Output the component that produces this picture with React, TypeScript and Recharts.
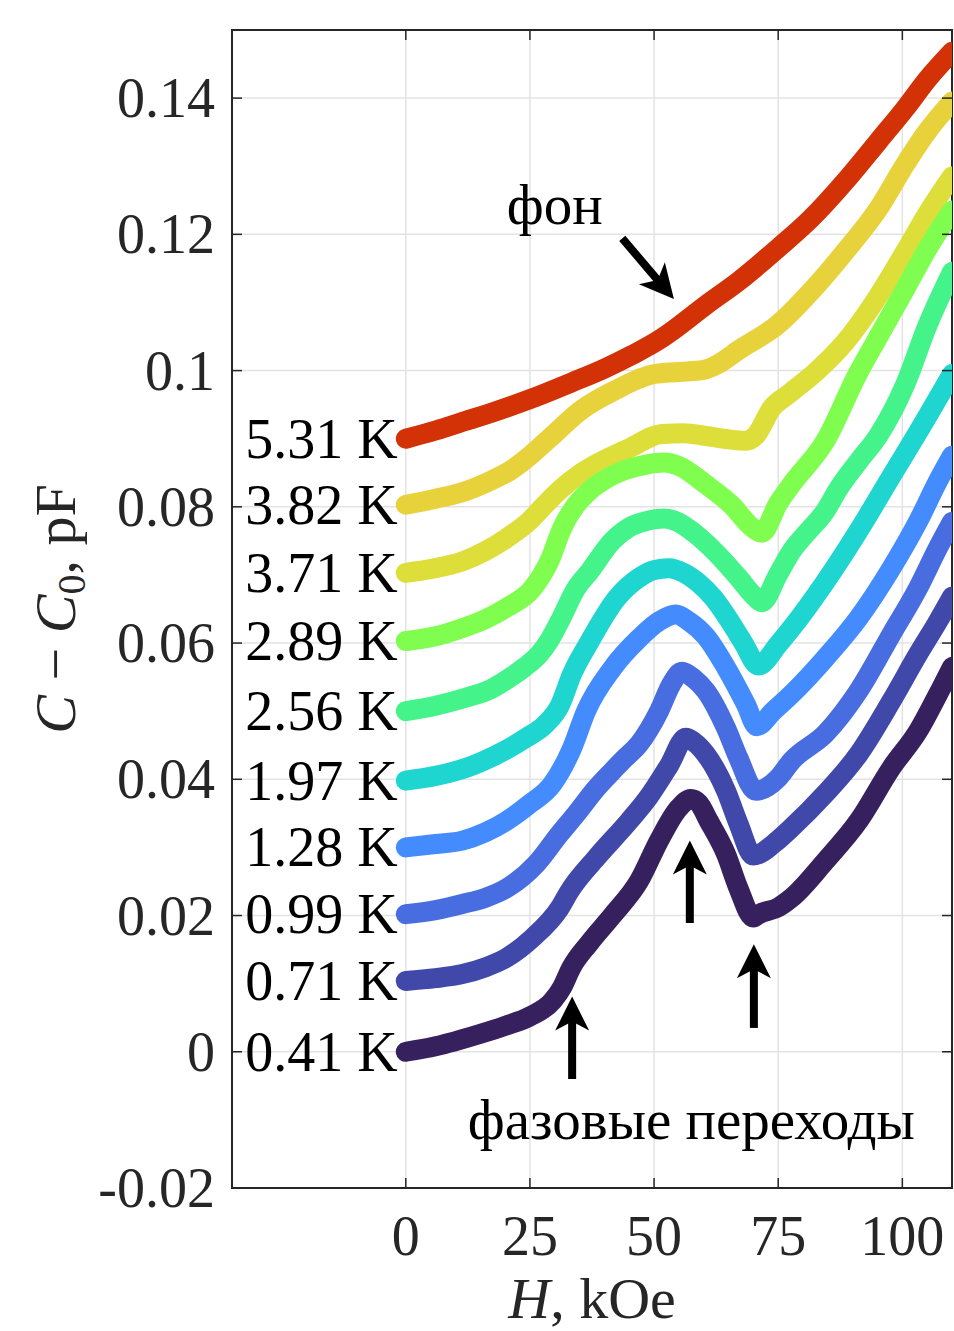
import React from "react";
import {
  LineChart,
  Line,
  XAxis,
  YAxis,
  CartesianGrid,
  ReferenceArea,
  ReferenceLine,
  ReferenceDot,
} from "recharts";

// capacitance C - C0 (pF) vs field H (kOe), curves offset by 0.01 pF
const temperatures = ["5.31 K", "3.82 K", "3.71 K", "2.89 K", "2.56 K", "1.97 K", "1.28 K", "0.99 K", "0.71 K", "0.41 K"];
const palette = ["#d23205", "#e8d23c", "#dede3a", "#80fe50", "#44f48a", "#1ed6cf", "#448cfe", "#486de0", "#4049aa", "#36215e"];

const curve531 = [[0, 0.09], [6, 0.0912], [12, 0.0926], [18, 0.094], [25, 0.0958], [33.5, 0.0983], [40, 0.1003], [45.6, 0.1023], [51, 0.1045], [53.6, 0.1058], [60.4, 0.1096], [67, 0.1131], [75, 0.118], [81.7, 0.1224], [88.5, 0.1278], [95.2, 0.1337], [100.6, 0.1385], [105.2, 0.1429], [110, 0.1468]];
const curve382 = [[0, 0.0803], [6, 0.0812], [12, 0.0823], [17, 0.0838], [21, 0.0853], [25, 0.0875], [29, 0.0901], [35.5, 0.0943], [42.4, 0.0972], [47, 0.0988], [50, 0.0995], [55, 0.0998], [60, 0.1001], [63, 0.1010], [67, 0.1030], [75, 0.1068], [81.7, 0.1117], [88.5, 0.1175], [95.2, 0.1238], [100.6, 0.1303], [105, 0.1351], [110, 0.1395]];
const curve371 = [[0, 0.0703], [6, 0.071], [11.4, 0.072], [16, 0.0735], [20.3, 0.0754], [25, 0.078], [28, 0.0803], [31.5, 0.0828], [35, 0.0848], [38.4, 0.0863], [45, 0.0886], [51.6, 0.0907], [56, 0.0908], [60.4, 0.0904], [65, 0.0899], [68.5, 0.0897], [70.5, 0.0905], [73.7, 0.0945], [77, 0.0965], [82.7, 0.0999], [88.5, 0.1042], [95.2, 0.111], [100.6, 0.1175], [105, 0.123], [110, 0.1285]];
const curve289 = [[0, 0.0603], [6, 0.061], [11.4, 0.0622], [16, 0.0635], [20.3, 0.0652], [25.5, 0.068], [28.9, 0.072], [31.5, 0.0769], [34, 0.08], [36.3, 0.0819], [41.6, 0.0846], [48.4, 0.0862], [52, 0.0865], [55, 0.0860], [60.4, 0.0833], [65.7, 0.0802], [69.7, 0.0770], [71.7, 0.0762], [75, 0.0805], [77.7, 0.0833], [84.5, 0.0897], [91, 0.0995], [95.2, 0.105], [100.6, 0.112], [105, 0.1178], [110, 0.1235]];
const curve256 = [[0, 0.05], [6, 0.0508], [12.2, 0.052], [17, 0.0532], [20.9, 0.0549], [24, 0.0565], [26.9, 0.0584], [29, 0.0605], [31, 0.0632], [34.3, 0.068], [37, 0.0705], [41.6, 0.075], [45, 0.077], [48.4, 0.0779], [52, 0.0783], [55, 0.0777], [58, 0.0762], [62.4, 0.0733], [67, 0.0696], [70, 0.067], [71.7, 0.066], [75, 0.0701], [77.7, 0.0735], [80.5, 0.076], [84.5, 0.0794], [87, 0.0825], [91.2, 0.0867], [95.2, 0.0905], [100.6, 0.098], [105, 0.1065], [110, 0.1145]];
const curve197 = [[0, 0.0398], [6, 0.0405], [12.2, 0.0417], [18, 0.0435], [24.3, 0.0461], [28, 0.048], [31, 0.0508], [33.5, 0.0555], [37, 0.0602], [42.4, 0.0665], [47, 0.0696], [50, 0.0707], [53, 0.0710], [56, 0.0703], [59, 0.0688], [62, 0.0666], [65, 0.0635], [68, 0.0600], [71, 0.0567], [75, 0.0598], [77.7, 0.0622], [84.5, 0.069], [91.2, 0.0765], [97.8, 0.0845], [103.2, 0.091], [110, 0.0995]];
const curve128 = [[0, 0.03], [6, 0.0305], [11.4, 0.031], [16, 0.0322], [20.3, 0.0339], [25, 0.0364], [29.5, 0.0393], [33.5, 0.0446], [36.3, 0.05], [41.6, 0.0563], [47, 0.0607], [51, 0.0632], [54.4, 0.0642], [57, 0.0632], [60.4, 0.0610], [64.5, 0.0564], [68.5, 0.051], [70.7, 0.0478], [74, 0.05], [77.7, 0.0525], [84.5, 0.0578], [91.2, 0.0637], [97.8, 0.071], [103.2, 0.0779], [107.2, 0.0838], [110, 0.0875]];
const curve099 = [[0, 0.0202], [6, 0.0208], [11.4, 0.0217], [16, 0.0226], [20.3, 0.024], [26.3, 0.0276], [31, 0.032], [34.3, 0.0349], [38.4, 0.0387], [41.6, 0.0412], [44, 0.043], [47, 0.0452], [51, 0.05], [53.5, 0.054], [55.6, 0.0558], [58, 0.0548], [60.4, 0.053], [64.5, 0.0475], [67, 0.0431], [70.5, 0.0383], [75, 0.0402], [77.7, 0.0427], [84.5, 0.0467], [91.2, 0.053], [97.8, 0.0613], [103.2, 0.0681], [107.2, 0.074], [110, 0.0778]];
const curve071 = [[0, 0.0104], [6, 0.0108], [11.4, 0.0114], [16, 0.0124], [20.3, 0.0138], [25.5, 0.0167], [31, 0.0211], [33, 0.0236], [38.4, 0.0285], [45, 0.0339], [49, 0.0375], [53, 0.042], [56.4, 0.0461], [58, 0.0455], [60.4, 0.0437], [64.5, 0.0383], [67, 0.0335], [70, 0.0288], [71.1, 0.029], [74, 0.0305], [77.7, 0.0329], [84.5, 0.0379], [91.2, 0.0437], [97.8, 0.0515], [103.2, 0.0584], [107.2, 0.0632], [110, 0.0668]];
const curve041 = [[0, 0], [6, 0.0008], [14.9, 0.0026], [20, 0.0038], [25, 0.0052], [29.6, 0.0075], [31.5, 0.0095], [33.3, 0.0123], [37, 0.016], [41.6, 0.02], [47, 0.0251], [51, 0.031], [55, 0.0358], [57.4, 0.0371], [59, 0.0365], [61, 0.0339], [64.5, 0.029], [67, 0.024], [70, 0.0197], [71.1, 0.0202], [75, 0.0212], [77.7, 0.0226], [84.5, 0.028], [91.2, 0.0339], [97.8, 0.0417], [103.2, 0.0471], [107.2, 0.0525], [110, 0.0565]];

const curves = [curve531, curve382, curve371, curve289, curve256, curve197, curve128, curve099, curve071, curve041];

const hTicks = [0, 25, 50, 75, 100];
const cTicks = [-0.02, 0, 0.02, 0.04, 0.06, 0.08, 0.1, 0.12, 0.14];
const cTickLabels = ["-0.02", "0", "0.02", "0.04", "0.06", "0.08", "0.1", "0.12", "0.14"];

// annotation arrows [H tail, C tail, H tip, C tip]
const arrows = [
  [43.6, 0.1194, 54.0, 0.1105],
  [33.5, -0.004, 33.5, 0.0081],
  [57.2, 0.0189, 57.2, 0.031],
  [70.1, 0.0035, 70.1, 0.0158],
];
const notes = [
  { h: 30, c: 0.1215, text: "фон" },
  { h: 57.5, c: -0.0128, text: "фазовые переходы" },
];

const FONT = '"Liberation Serif", "DejaVu Serif", serif';
const INK = "#262626";
const PLOT_TOP = 30;
const PLOT_RIGHT = 952;

const series = curves.map((pts) => pts.map(([h, c]) => ({ h, c })));

const XTick = (props: any) => {
  const { x, y, payload } = props;
  return (
    <g>
      <line x1={x} y1={y} x2={x} y2={y - 10} stroke={INK} strokeWidth={1.5} />
      <line x1={x} y1={PLOT_TOP} x2={x} y2={PLOT_TOP + 10} stroke={INK} strokeWidth={1.5} />
      <text x={x} y={y + 48} dy="0.34em" textAnchor="middle" fontFamily={FONT} fontSize={56} fill={INK}>
        {payload.value}
      </text>
    </g>
  );
};

const YTick = (props: any) => {
  const { x, y, payload } = props;
  const i = cTicks.indexOf(payload.value);
  return (
    <g>
      <line x1={x} y1={y} x2={x + 10} y2={y} stroke={INK} strokeWidth={1.5} />
      <line x1={PLOT_RIGHT} y1={y} x2={PLOT_RIGHT - 10} y2={y} stroke={INK} strokeWidth={1.5} />
      <text x={x - 17} y={y} dy="0.34em" textAnchor="end" fontFamily={FONT} fontSize={56} fill={INK}>
        {i >= 0 ? cTickLabels[i] : payload.value}
      </text>
    </g>
  );
};

const Arrow = (props: any) => {
  const { x1, y1, x2, y2 } = props;
  const len = Math.hypot(x2 - x1, y2 - y1) || 1;
  const ux = (x2 - x1) / len;
  const uy = (y2 - y1) / len;
  const bx = x2 - ux * 34;
  const by = y2 - uy * 34;
  const nx = -uy;
  const ny = ux;
  const pts = `${x2},${y2} ${bx + nx * 17},${by + ny * 17} ${bx + ux * 9},${by + uy * 9} ${bx - nx * 17},${by - ny * 17}`;
  return (
    <g>
      <line x1={x1} y1={y1} x2={bx + ux * 10} y2={by + uy * 10} stroke="#000" strokeWidth={8} />
      <polygon points={pts} fill="#000" />
    </g>
  );
};

export default function App() {
  return (
    <div style={{ position: "absolute", left: 0, top: 0, width: 954, height: 1331, background: "#fff" }}>
      <LineChart width={954} height={1331} margin={{ top: PLOT_TOP, right: 2, left: 0, bottom: 0 }}>
        <CartesianGrid stroke="#e3e3e3" strokeWidth={1.5} />
        <XAxis
          dataKey="h"
          type="number"
          domain={[-35, 110]}
          ticks={hTicks}
          allowDataOverflow
          height={143}
          tickSize={0}
          tickMargin={0}
          tick={<XTick />}
          axisLine={{ stroke: INK, strokeWidth: 2 }}
          label={{
            content: (p: any) => {
              const vb = p.viewBox;
              return (
                <text x={vb.x + vb.width / 2} y={vb.y + 130} textAnchor="middle" fontFamily={FONT} fontSize={58} fill={INK}>
                  <tspan fontStyle="italic">H</tspan>, kOe
                </text>
              );
            },
          }}
        />
        <YAxis
          dataKey="c"
          type="number"
          domain={[-0.02, 0.15]}
          ticks={cTicks}
          allowDataOverflow
          width={232}
          tickSize={0}
          tickMargin={0}
          tick={<YTick />}
          axisLine={{ stroke: INK, strokeWidth: 2 }}
          label={{
            content: (p: any) => {
              const vb = p.viewBox;
              const cx = vb.x + 55;
              const cy = vb.y + vb.height / 2;
              return (
                <text x={cx} y={cy} transform={`rotate(-90 ${cx} ${cy})`} dy="0.34em" textAnchor="middle" fontFamily={FONT} fontSize={58} fill={INK}>
                  <tspan fontStyle="italic">C</tspan> − <tspan fontStyle="italic">C</tspan>
                  <tspan fontSize={40} dy="10">0</tspan>
                  <tspan dy="-10">, pF</tspan>
                </text>
              );
            },
          }}
        />
        <ReferenceArea x1={-35} x2={110} y1={-0.02} y2={0.15} fill="none" stroke={INK} strokeWidth={2} />
        {series.map((data, i) => (
          <Line
            key={temperatures[i]}
            data={data}
            dataKey="c"
            type="monotoneX"
            stroke={palette[i]}
            strokeWidth={20}
            strokeLinecap="round"
            strokeLinejoin="round"
            dot={false}
            isAnimationActive={false}
            label={(p: any) =>
              p.index === 0 ? (
                <text key="lbl" x={p.x - 8} y={p.y} dy="0.34em" textAnchor="end" fontFamily={FONT} fontSize={56} fill="#000">
                  {temperatures[i]}
                </text>
              ) : (
                <g key={`e${p.index}`} />
              )
            }
          />
        ))}
        {arrows.map(([h1, c1, h2, c2], i) => (
          <ReferenceLine
            key={`a${i}`}
            segment={[{ x: h1, y: c1 }, { x: h2, y: c2 }]}
            shape={(p: any) => <Arrow {...p} />}
          />
        ))}
        {notes.map((n) => (
          <ReferenceDot
            key={n.text}
            x={n.h}
            y={n.c}
            r={0}
            shape={(p: any) => (
              <text x={p.cx} y={p.cy} textAnchor="middle" fontFamily={FONT} fontSize={57} fill="#000">
                {n.text}
              </text>
            )}
          />
        ))}
      </LineChart>
    </div>
  );
}
